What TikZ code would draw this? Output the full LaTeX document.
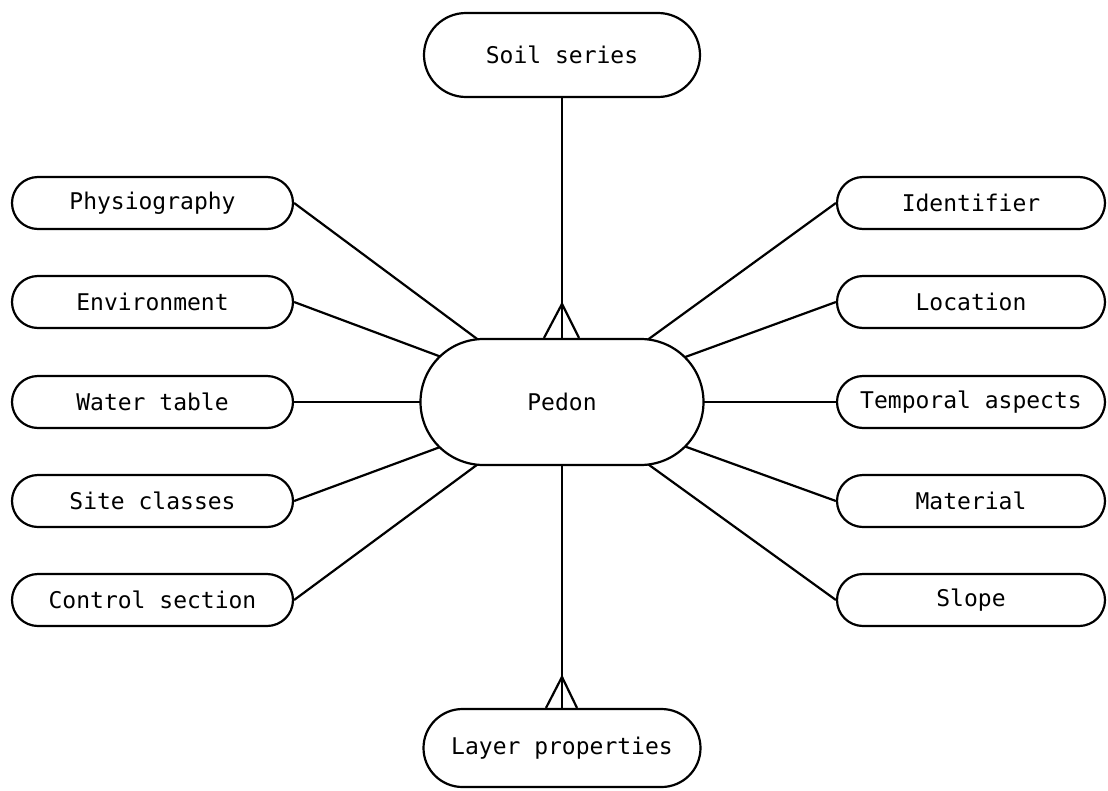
\documentclass[tikz,border=0pt]{standalone}
\usepackage{fontspec}
\setmonofont{DejaVu Sans Mono}
\usetikzlibrary{shapes.misc,backgrounds,calc}
\begin{document}
\begin{tikzpicture}[x=1pt,y=-1pt,line width=2.2pt,
  ent/.style={draw,fill=white,rounded rectangle,inner sep=0pt,
    font=\ttfamily\fontsize{23}{26}\selectfont},
  leftbox/.style={ent,minimum width=281pt,minimum height=52pt},
  rightbox/.style={ent,minimum width=268pt,minimum height=52pt},
  link/.style={line width=2.2pt}]
\useasboundingbox (0,0) rectangle (1108,790);
% central entity
\node[ent,minimum width=283pt,minimum height=126pt] (pedon) at (562,402) {Pedon};
\node[ent,minimum width=276pt,minimum height=84pt] (soil) at (562,55) {Soil series};
\node[ent,minimum width=277pt,minimum height=78pt] (layer) at (562,748) {Layer properties};
% left column
\node[leftbox] (phys) at (152.5,203) {Physiography};
\node[leftbox] (env) at (152.5,302) {Environment};
\node[leftbox] (water) at (152.5,402) {Water table};
\node[leftbox] (site) at (152.5,501) {Site classes};
\node[leftbox] (ctrl) at (152.5,600) {Control section};
% right column
\node[rightbox] (ident) at (971,203) {Identifier};
\node[rightbox] (loc) at (971,302) {Location};
\node[rightbox] (temp) at (971,402) {Temporal aspects};
\node[rightbox] (mat) at (971,501) {Material};
\node[rightbox] (slope) at (971,600) {Slope};
% connectors behind the filled Pedon
\begin{scope}[on background layer]
  \foreach \n in {phys,env,water,site,ctrl}
    \draw[link] (\n.east) -- (pedon.center);
  \foreach \n in {ident,loc,temp,mat,slope}
    \draw[link] (\n.west) -- (pedon.center);
\end{scope}
% Soil series -- Pedon (many at Pedon)
\coordinate (ssapex) at ($(pedon.north)+(0,-34)$);
\draw[link] (soil.south) -- (pedon.north);
\draw[link] ($(pedon.north)+(-18,0)$) -- (ssapex) -- ($(pedon.north)+(17,0)$);
% Pedon -- Layer properties (many at Layer properties)
\coordinate (lpapex) at ($(layer.north)+(0,-31)$);
\draw[link] (pedon.south) -- (layer.north);
\draw[link] ($(layer.north)+(-16,0)$) -- (lpapex) -- ($(layer.north)+(15,0)$);
\end{tikzpicture}
\end{document}
